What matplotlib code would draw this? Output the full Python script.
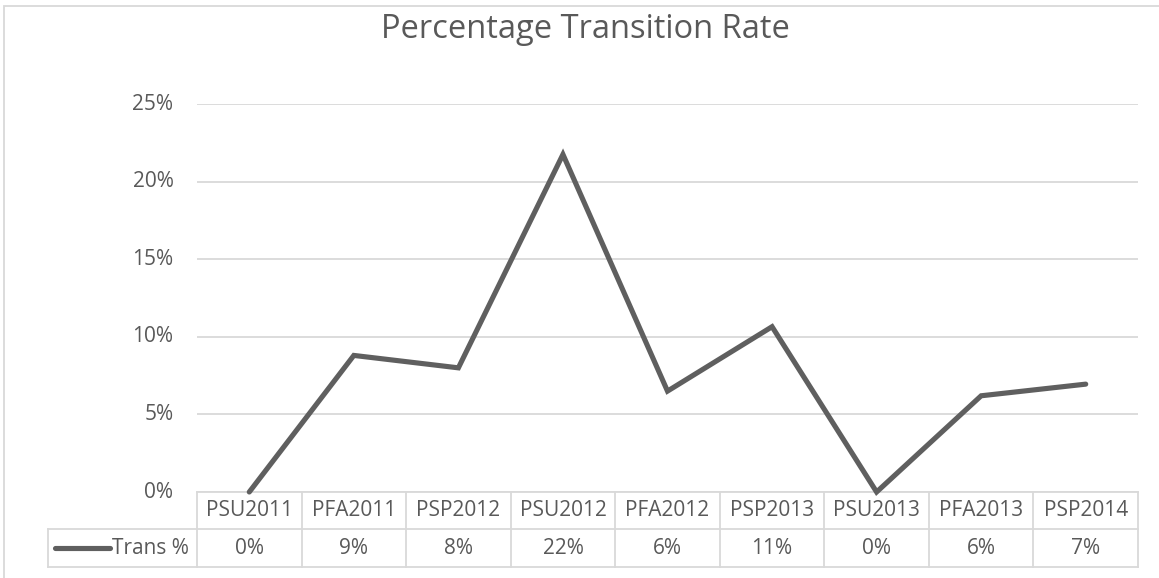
import matplotlib
matplotlib.use("Agg")
import matplotlib.pyplot as plt
import matplotlib.transforms as mtransforms
from matplotlib.patches import Rectangle
from matplotlib.ticker import FuncFormatter

# ===== data =====
categories = ['PSU2011', 'PFA2011', 'PSP2012', 'PSU2012', 'PFA2012',
              'PSP2013', 'PSU2013', 'PFA2013', 'PSP2014']
trans_pct = [0.0, 8.8, 8.0, 21.75, 6.5, 10.65, 0.0, 6.2, 6.95]
table_labels = ['0%', '9%', '8%', '22%', '6%', '11%', '0%', '6%', '7%']
series_name = 'Trans %'
yticks = [0, 5, 10, 15, 20, 25]
title = 'Percentage Transition Rate'

# ===== style =====
plt.rcParams['font.family'] = ['Open Sans', 'DejaVu Sans']
txt_col = '#595959'
grid_col = '#d9d9d9'
line_col = '#5f5f5f'
fs = 15

W, H = 1159, 578
fig = plt.figure(figsize=(W / 100, H / 100), dpi=100)

# outer chart border (cut off right/bottom like the reference)
fig.patches.append(Rectangle((3.5 / W, -0.2), 1.2, 1.2 - 5.5 / H,
                             transform=fig.transFigure, fill=False,
                             edgecolor=grid_col, lw=1.3))

ax = fig.add_axes([197 / W, 1 - 492 / H, 941 / W, 388 / H])
x = list(range(len(categories)))
ax.plot(x, trans_pct, color=line_col, lw=3.7, solid_capstyle='round',
        solid_joinstyle='miter', zorder=3, clip_on=False)

ax.set_xlim(-0.5, len(categories) - 0.5)
ax.set_ylim(0, 25)
ax.set_yticks(yticks)
ax.yaxis.set_major_formatter(FuncFormatter(lambda v, p: f'{v:.0f}%'))
ax.set_xticks([])
ax.tick_params(axis='y', length=0, pad=17, labelsize=fs, labelcolor=txt_col)
for lab in ax.get_yticklabels():
    lab.set_verticalalignment('center')
ax.grid(axis='y', color=grid_col, lw=1.3)
ax.set_axisbelow(True)
for s in ax.spines.values():
    s.set_visible(False)

fig.text(585.5 / W, 1 - 30 / H, title, ha='center', va='center',
         fontsize=23.5, color=txt_col)

# ===== data table under the axis =====
tr = mtransforms.blended_transform_factory(ax.transData, ax.transAxes)
px_unit = 941 / len(categories)
r0, r1, r2 = 0.0, -37 / 388, -75 / 388
left_lab = -0.5 - (197 - 48) / px_unit
n = len(categories)
kw = dict(color=grid_col, lw=1.3, transform=tr, clip_on=False)
ax.plot([-0.5, n - 0.5], [r0, r0], **kw)
ax.plot([left_lab, n - 0.5], [r1, r1], **kw)
ax.plot([left_lab, n - 0.5], [r2, r2], **kw)
ax.plot([left_lab, left_lab], [r1, r2], **kw)
for i in range(n + 1):
    ax.plot([i - 0.5, i - 0.5], [r0, r2], **kw)

for i, (c, v) in enumerate(zip(categories, table_labels)):
    ax.text(i, (r0 + r1) / 2, c, transform=tr, ha='center', va='center',
            fontsize=fs, color=txt_col, clip_on=False)
    ax.text(i, (r1 + r2) / 2, v, transform=tr, ha='center', va='center',
            fontsize=fs, color=txt_col, clip_on=False)

leg_x0 = -0.5 - (197 - 55) / px_unit
leg_x1 = -0.5 - (197 - 110) / px_unit
ax.plot([leg_x0, leg_x1], [(r1 + r2) / 2] * 2, color=line_col, lw=3.7,
        solid_capstyle='round', transform=tr, clip_on=False)
ax.text(-0.5 - (197 - 189) / px_unit, (r1 + r2) / 2, series_name, transform=tr,
        ha='right', va='center', fontsize=fs, color=txt_col, clip_on=False)

fig.savefig('out.png', dpi=100)
